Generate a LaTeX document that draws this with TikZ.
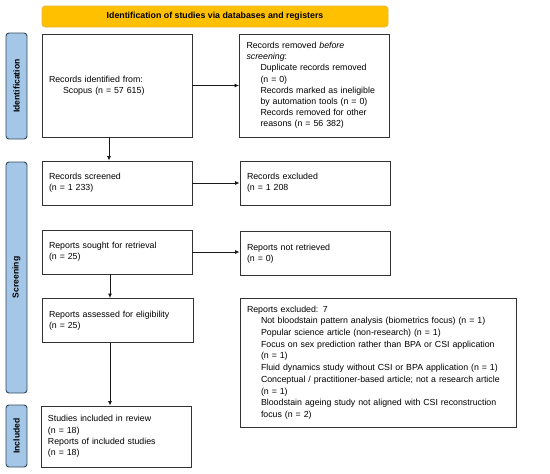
\documentclass[tikz,border=0pt]{standalone}
\usepackage{fontspec}
\setmainfont{Liberation Sans}
\usetikzlibrary{arrows.meta}
\definecolor{hdr}{HTML}{FFC000}
\definecolor{hdrline}{HTML}{E8B43A}
\definecolor{side}{HTML}{A4C6E7}
\definecolor{sideline}{HTML}{34495E}
\tikzset{
  box/.style={draw=black!80, line width=0.9pt, fill=white, inner xsep=7pt, inner ysep=4pt, align=left, font=\fontsize{8.8}{11.2}\selectfont},
  sidelab/.style={draw=sideline, line width=0.9pt, fill=side, rounded corners=3pt, font=\bfseries\fontsize{8.6}{10}\selectfont},
  hdrbox/.style={draw=hdrline, line width=0.6pt, fill=hdr, rounded corners=3pt, font=\bfseries\fontsize{8.8}{10}\selectfont},
  arr/.style={-{Latex[length=4.5pt,width=4pt]}, line width=0.8pt, black!90},
}
\newcommand{\ind}{\hspace*{14pt}}
\begin{document}
\begin{tikzpicture}[x=1pt,y=-1pt]
\useasboundingbox (0,0) rectangle (550,474);
% header
\node[hdrbox, minimum width=346pt, minimum height=21pt] (hdr) at (215,16.5) {Identification of studies via databases and registers};
% side labels
\node[sidelab, minimum width=106pt, minimum height=21pt, rotate=90] (sid) at (16.5,86) {Identification};
\node[sidelab, minimum width=231pt, minimum height=21pt, rotate=90] (sscr) at (16.5,277.5) {Screening};
\node[sidelab, minimum width=62pt, minimum height=21pt, rotate=90] (sinc) at (16.5,436) {Included};
% boxes
\node[box, text width=136pt, minimum width=150pt, minimum height=103pt] (ident) at (117,85.5)
 {Records identified from:\\\ind Scopus (n = 57 615)};
\node[box, text width=136pt, minimum width=150pt, minimum height=103pt] (removed) at (314.5,85.5)
 {Records removed \textit{before}\\\textit{screening}:\\
 \ind Duplicate records removed\\\ind (n = 0)\\
 \ind Records marked as ineligible\\\ind by automation tools (n = 0)\\
 \ind Records removed for other\\\ind reasons (n = 56 382)};
\node[box, text width=136pt, minimum width=150pt, minimum height=44pt] (screened) at (117,183)
 {Records screened\\(n = 1 233)};
\node[box, text width=136pt, minimum width=150pt, minimum height=44pt] (excl) at (315,183)
 {Records excluded\\(n = 1 208};
\node[box, text width=136pt, minimum width=150pt, minimum height=44pt] (sought) at (117,252)
 {Reports sought for retrieval\\(n = 25)};
\node[box, text width=136pt, minimum width=150pt, minimum height=44pt] (notret) at (315,253.5)
 {Reports not retrieved\\(n = 0)};
\node[box, text width=137pt, minimum width=151pt, minimum height=44pt] (assessed) at (117.5,320.5)
 {Reports assessed for eligibility\\(n = 25)};
\node[box, text width=262pt, minimum width=276pt, minimum height=129pt, font=\fontsize{8.8}{11.7}\selectfont] (repexcl) at (378,362.5)
 {Reports excluded: 7\\
 \ind Not bloodstain pattern analysis (biometrics focus) (n = 1)\\
 \ind Popular science article (non-research) (n = 1)\\
 \ind Focus on sex prediction rather than BPA or CSI application\\\ind (n = 1)\\
 \ind Fluid dynamics study without CSI or BPA application (n = 1)\\
 \ind Conceptual / practitioner-based article; not a research article\\\ind (n = 1)\\
 \ind Bloodstain ageing study not aligned with CSI reconstruction\\\ind focus (n = 2)};
\node[box, text width=136pt, minimum width=150pt, minimum height=61pt] (incl) at (116,436.5)
 {Studies included in review\\(n = 18)\\Reports of included studies\\(n = 18)};
% arrows
\draw[arr] (ident.east) -- (removed.west);
\draw[arr] (ident.south -| 109,0) -- (screened.north -| 109,0);
\draw[arr] (screened.east) -- (excl.west);
\draw[arr] (sought.east) -- (notret.west |- sought.east);
\draw[arr] (sought.south -| 110,0) -- (assessed.north -| 110,0);
\draw[arr] (assessed.south -| 110,0) -- (incl.north -| 110,0);
\end{tikzpicture}
\end{document}
